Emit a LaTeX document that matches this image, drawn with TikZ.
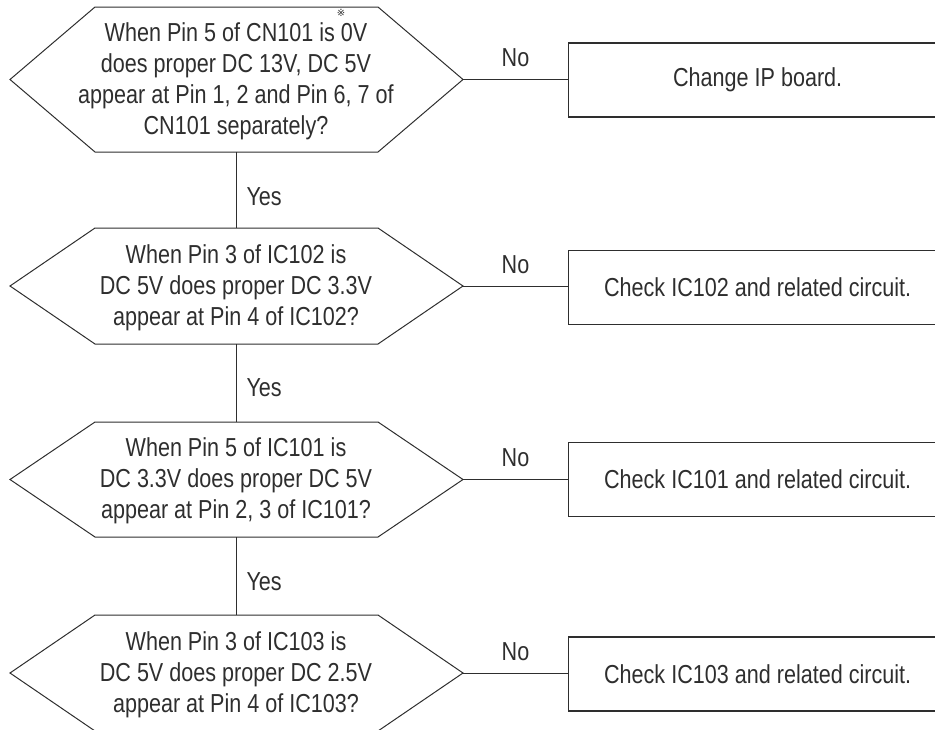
\documentclass[tikz,border=0pt]{standalone}
\usepackage{fontspec}
\setmainfont{Liberation Sans}[FakeStretch=0.83]
\newfontfamily\symfont{DejaVu Sans}
\definecolor{ink}{HTML}{2E2E2E}
\begin{document}
\begin{tikzpicture}[x=1pt,y=-1pt,
  txt/.style={font=\fontsize{26}{31}\selectfont, text=ink, align=center, inner sep=0pt},
  hexline/.style={draw=ink, line width=1pt, line join=miter},
  boxnode/.style={draw=ink, line width=1.3pt, minimum width=378pt, minimum height=74pt,
    anchor=west, font=\fontsize{26}{31}\selectfont, text=ink, inner sep=0pt},
  conn/.style={draw=ink, line width=1pt},
  lbl/.style={font=\fontsize{26}{31}\selectfont, text=ink, inner sep=0pt}
]
\useasboundingbox (0,0) rectangle (935,729);
\begin{scope}
\clip (0,0) rectangle (935,729);

% hexagon 1
\coordinate (h1l) at (10,79.5);  \coordinate (h1r) at (463,79.5);
\coordinate (h1t) at (236,7);    \coordinate (h1b) at (236,152);
\draw[hexline] (h1l) -- (95,7) -- (378,7) -- (h1r) -- (378,152) -- (95,152) -- cycle;
\node[txt] (t1) at (236,81) {When Pin 5 of CN101 is 0V\\does proper DC 13V, DC 5V\\appear at Pin 1, 2 and Pin 6, 7 of\\CN101 separately?};
\node[font=\symfont\fontsize{10}{10}\selectfont, text=ink, inner sep=0pt] (star) at (341,13) {※};

% hexagon 2
\coordinate (h2l) at (10,286);  \coordinate (h2r) at (463,286);
\coordinate (h2t) at (236,228); \coordinate (h2b) at (236,344);
\draw[hexline] (h2l) -- (95,228) -- (378,228) -- (h2r) -- (378,344) -- (95,344) -- cycle;
\node[txt] (t2) at (236,288) {When Pin 3 of IC102 is\\DC 5V does proper DC 3.3V\\appear at Pin 4 of IC102?};

% hexagon 3
\coordinate (h3l) at (10,479.5);  \coordinate (h3r) at (463,479.5);
\coordinate (h3t) at (236,422);   \coordinate (h3b) at (236,537);
\draw[hexline] (h3l) -- (95,422) -- (378,422) -- (h3r) -- (378,537) -- (95,537) -- cycle;
\node[txt] (t3) at (236,481) {When Pin 5 of IC101 is\\DC 3.3V does proper DC 5V\\appear at Pin 2, 3 of IC101?};

% hexagon 4
\coordinate (h4l) at (10,673);  \coordinate (h4r) at (463,673);
\coordinate (h4t) at (236,615); \coordinate (h4b) at (236,731);
\draw[hexline] (h4l) -- (95,615) -- (378,615) -- (h4r) -- (378,731) -- (95,731) -- cycle;
\node[txt] (t4) at (236,675) {When Pin 3 of IC103 is\\DC 5V does proper DC 2.5V\\appear at Pin 4 of IC103?};

% boxes
\node[boxnode] (b1) at (568,80) {Change IP board.};
\node[boxnode] (b2) at (568,287.5) {Check IC102 and related circuit.};
\node[boxnode] (b3) at (568,479.5) {Check IC101 and related circuit.};
\node[boxnode] (b4) at (568,674) {Check IC103 and related circuit.};

% No connectors
\foreach \i in {1,2,3,4}{
  \draw[conn] (h\i r) -- node[lbl, midway, anchor=base, yshift=13pt] {No} (b\i.west |- h\i r);
}

% Yes connectors
\draw[conn] (h1b) -- node[lbl, midway, anchor=base west, xshift=10pt, yshift=-15pt] {Yes} (h2t);
\draw[conn] (h2b) -- node[lbl, midway, anchor=base west, xshift=10pt, yshift=-13pt] {Yes} (h3t);
\draw[conn] (h3b) -- node[lbl, midway, anchor=base west, xshift=10pt, yshift=-14pt] {Yes} (h4t);
\end{scope}
\end{tikzpicture}
\end{document}
